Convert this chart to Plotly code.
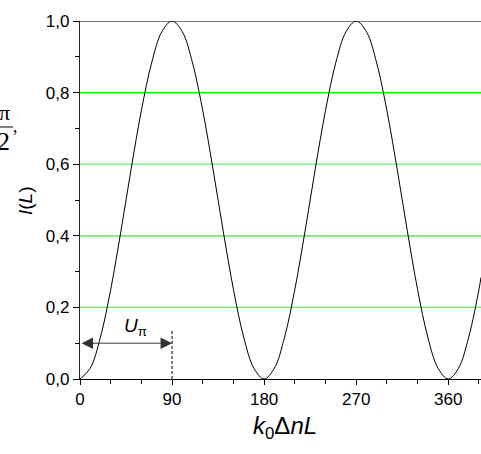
import plotly.graph_objects as go

# Data
x_deg = [0, 10, 20, 30, 40, 50, 60, 70, 80, 90, 100, 110, 120, 130, 140, 150, 160, 170,
         180, 190, 200, 210, 220, 230, 240, 250, 260, 270, 280, 290, 300, 310, 320, 330,
         340, 350, 360, 370, 380, 390, 392]
intensity = [0.0, 0.03, 0.117, 0.25, 0.413, 0.587, 0.75, 0.883, 0.97, 1.0, 0.97, 0.883,
             0.75, 0.587, 0.413, 0.25, 0.117, 0.03, 0.0, 0.03, 0.117, 0.25, 0.413, 0.587,
             0.75, 0.883, 0.97, 1.0, 0.97, 0.883, 0.75, 0.587, 0.413, 0.25, 0.117, 0.03,
             0.0, 0.03, 0.117, 0.25, 0.284]
x_ticks = [0, 90, 180, 270, 360]
y_ticks = [0.0, 0.2, 0.4, 0.6, 0.8, 1.0]
green_levels = [0.2, 0.4, 0.6, 0.8]
green_colors = ["#6cf06c", "#40e040", "#6cf06c", "#00f000"]
top_level = 1.0
arrow_y = 0.1
u_pi_x = 90
dash_top = 0.135
x_range = [0, 392]

W = 401.0  # plot width in px
H = 358.0  # plot height in px
def px(xp):
    return (xp - 80) / W
def py(yp):
    return (379 - yp) / H

fig = go.Figure()

shapes = []
for lvl, col in zip(green_levels, green_colors):
    shapes.append(dict(type="line", xref="paper", yref="y", x0=0, x1=1, y0=lvl, y1=lvl,
                       line=dict(color=col, width=1.3), layer="below"))
shapes.append(dict(type="line", xref="paper", yref="y", x0=0, x1=1, y0=top_level, y1=top_level,
                   line=dict(color="#555555", width=1.3), layer="below"))
shapes.append(dict(type="line", xref="x", yref="y", x0=u_pi_x, x1=u_pi_x, y0=0, y1=dash_top,
                   line=dict(color="#000000", width=1, dash="3px,2px")))
# fraction bar of the cut-off label
shapes.append(dict(type="line", xref="paper", yref="paper", x0=px(0), x1=px(13),
                   y0=py(127), y1=py(127), line=dict(color="#000000", width=1)))

fig.add_trace(go.Scatter(x=x_deg, y=intensity, mode="lines",
                         line=dict(color="#000000", width=1, shape="spline", smoothing=1.0),
                         cliponaxis=False, hoverinfo="skip", showlegend=False))

serif = "Liberation Serif, Times New Roman"
annotations = [
    dict(x=u_pi_x, y=arrow_y, ax=0, ay=arrow_y, xref="x", yref="y", axref="x", ayref="y",
         text="", showarrow=True, arrowhead=2, startarrowhead=2, arrowside="end+start",
         arrowsize=2.3, startarrowsize=2.3, arrowwidth=1, arrowcolor="#333333",
         standoff=0, startstandoff=0),
    dict(x=54, y=0.145, xref="x", yref="y", text="<i>U</i><sub>π</sub>", showarrow=False,
         font=dict(family="Liberation Sans, Arial", size=19, color="#000")),
    dict(x=0.512, y=-0.135, xref="paper", yref="paper", xanchor="center", yanchor="middle",
         text="<i>k</i><sub>0</sub>Δ<i>nL</i>", showarrow=False,
         font=dict(family="Liberation Sans, Arial", size=24, color="#000")),
    dict(x=px(25), y=py(201), xref="paper", yref="paper", textangle=-90,
         xanchor="center", yanchor="middle", borderpad=0,
         text="<i>I</i>(<i>L</i>)", showarrow=False,
         font=dict(family="Liberation Sans, Arial", size=19, color="#000")),
    dict(x=px(11), y=py(113), xref="paper", yref="paper", xanchor="right", yanchor="middle",
         borderpad=0, text="π", showarrow=False, font=dict(family=serif, size=22, color="#000")),
    dict(x=px(11), y=py(141), xref="paper", yref="paper", xanchor="right", yanchor="middle",
         borderpad=0, text="2", showarrow=False, font=dict(family=serif, size=26, color="#000")),
    dict(x=px(11), y=py(137), xref="paper", yref="paper", xanchor="left", yanchor="middle",
         borderpad=0, text="’", showarrow=False, font=dict(family=serif, size=18, color="#000")),
]

fig.update_layout(
    width=481, height=454,
    margin=dict(l=80, r=0, t=21, b=75),
    paper_bgcolor="white", plot_bgcolor="white",
    separators=",.",
    shapes=shapes, annotations=annotations,
    font=dict(family="Liberation Sans, Arial", size=17, color="#000"),
    xaxis=dict(range=x_range, tickvals=x_ticks, ticks="outside", ticklen=5, tickwidth=1,
               tickcolor="#000", showgrid=False, zeroline=False, showline=True,
               linecolor="#000", linewidth=1,
               minor=dict(dtick=30, tick0=0, ticks="outside", ticklen=4, tickcolor="#000",
                          showgrid=False),
               tickfont=dict(size=17)),
    yaxis=dict(range=[0, 1], tickvals=y_ticks, tickformat=".1f", ticks="outside", ticklen=6,
               tickwidth=1, tickcolor="#000", showgrid=False, zeroline=False, showline=True,
               linecolor="#222", linewidth=1.3,
               minor=dict(dtick=0.1, tick0=0, ticks="outside", ticklen=4, tickcolor="#000",
                          showgrid=False),
               tickfont=dict(size=17)),
)

fig.write_html("out.html", config={"displayModeBar": False},
               post_script="document.body.style.margin='0';document.body.style.overflow='hidden';")
